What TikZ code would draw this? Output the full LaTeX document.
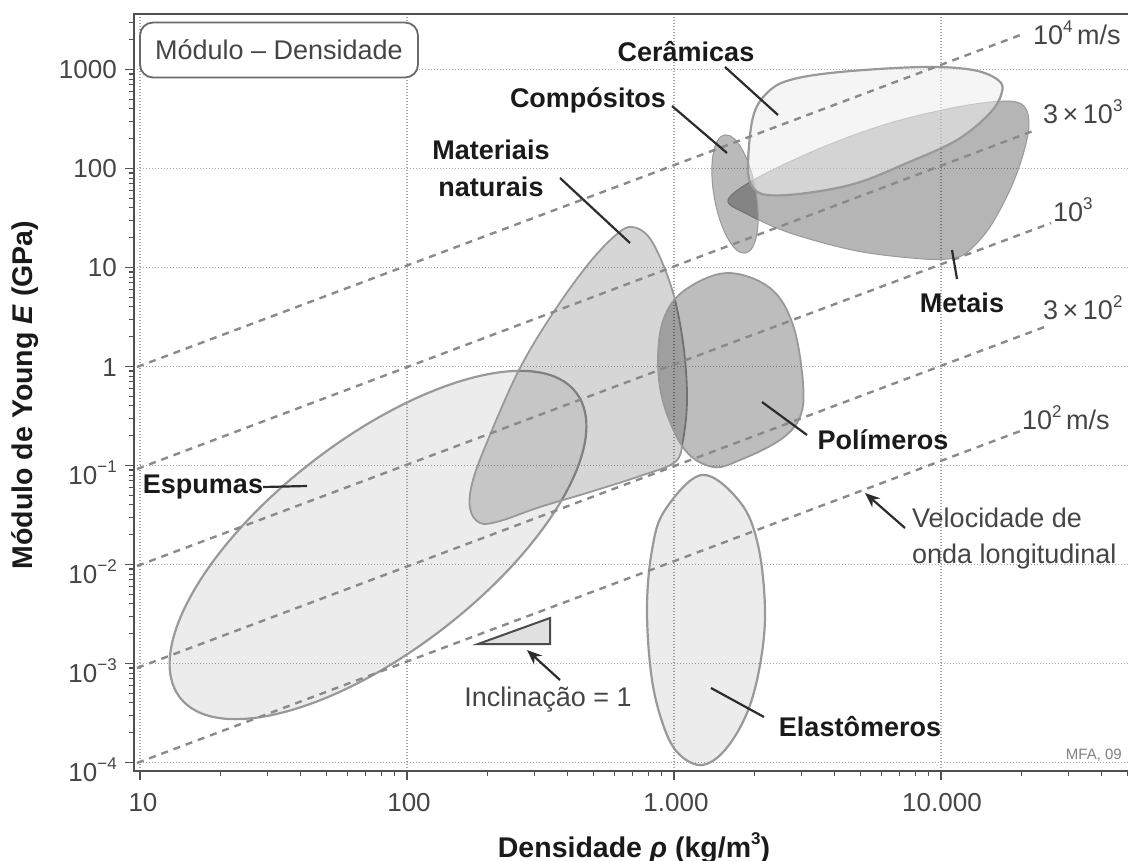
\documentclass[tikz,border=0pt]{standalone}
\usepackage{fontspec}
\setmainfont{Liberation Sans}
\usetikzlibrary{arrows.meta}
\definecolor{frameC}{HTML}{505050}
\definecolor{gridC}{HTML}{A8A8A8}
\definecolor{dashC}{HTML}{8A8A8A}
\definecolor{edgeC}{HTML}{999999}
\definecolor{leadC}{HTML}{2C2C2C}
\definecolor{lightT}{HTML}{454545}
\definecolor{darkT}{HTML}{1A1A1A}
\newcommand{\mysup}[1]{\raisebox{0.45em}{\fontsize{17}{17}\selectfont #1}}
\begin{document}
\begin{tikzpicture}[x=1pt,y=-1pt,
  gridl/.style={gridC, line width=1.2pt, dash pattern=on 1.2pt off 1.8pt},
  vline/.style={dashC, line width=2.4pt, dash pattern=on 7pt off 6pt},
  leader/.style={leadC, line width=2.2pt},
  arr/.style={leadC, line width=2.2pt, -{Stealth[length=15pt,width=12pt]}},
  frm/.style={frameC, line width=2pt},
  tk/.style={frameC, line width=1.4pt},
  cat/.style={font=\fontsize{27}{37}\selectfont\bfseries, text=darkT, inner sep=0pt},
  lt/.style={font=\fontsize{27}{30}\selectfont, text=lightT, inner sep=0pt},
  ticklab/.style={font=\fontsize{26}{28}\selectfont, text=lightT, inner sep=0pt},
  axt/.style={font=\fontsize{28.5}{30}\selectfont\bfseries, text=darkT, inner sep=0pt},
  lightshape/.style={fill=black, fill opacity=0.075, draw=edgeC, line width=2.2pt},
]
\useasboundingbox (0,0) rectangle (1128,861);

% grid
\foreach \d in {-4,...,3} {
  \pgfmathsetmacro{\yy}{366.5-99*(\d)}
  \draw[gridl] (134,\yy) -- (1128,\yy);
}
\foreach \xx in {140,407,674,941} {
  \draw[gridl] (\xx,14) -- (\xx,771);
}

% material bubbles
\draw[lightshape, rotate around={37.6:(378,545)}] (378,545) ellipse [x radius=250, y radius=106];
\draw[fill=black, fill opacity=0.16, draw=edgeC, line width=1.8pt] plot[smooth cycle, tension=0.6] coordinates {(617,234) (632,227) (648,236) (662,262) (675,300) (684,350) (687,400) (683,440) (675,462) (640,476) (590,492) (540,507) (500,521) (480,523) (470,508) (473,480) (490,435) (520,368) (555,310) (590,262)};
\draw[fill=black, fill opacity=0.26, draw=edgeC, line width=1.8pt] plot[smooth cycle, tension=0.6] coordinates {(727,273) (770,288) (793,325) (803,383) (800,417) (780,440) (740,460) (713,467) (685,450) (664,405) (658,360) (664,318) (685,290)};
\draw[lightshape] plot[smooth cycle, tension=0.6] coordinates {(702,475) (740,502) (758,545) (765,610) (760,665) (747,713) (725,750) (702,765) (680,755) (665,730) (652,680) (647,610) (652,550) (665,510)};
\draw[fill=black, fill opacity=0.29, draw=edgeC, line width=1pt] plot[smooth cycle, tension=0.55] coordinates {(728,200) (757,178) (823,147) (890,123) (957,107) (1005,101) (1024,106) (1029,125) (1023,155) (1010,190) (990,227) (970,250) (955,258) (923,259) (857,251) (790,233) (747,214)};
\draw[fill=black, fill opacity=0.27, draw=edgeC, line width=1pt, rotate around={10:(735,194)}] (735,194) ellipse [x radius=21, y radius=60];
\draw[fill=white!93!black, fill opacity=0.55, draw=edgeC, line width=2.2pt] plot[smooth cycle, tension=0.6] coordinates {(748,165) (753,117) (767,93) (790,80) (840,72) (923,67) (973,70) (998,80) (1002,92) (990,113) (957,140) (907,163) (857,183) (807,193) (767,195) (752,186)};

% velocity lines
\coordinate (a1) at (137,367);  \coordinate (b1) at (1023,34);
\coordinate (a2) at (137,469);  \coordinate (b2) at (1033,131);
\coordinate (a3) at (137,566);  \coordinate (b3) at (1051,223);
\coordinate (a4) at (137,668);  \coordinate (b4) at (1047,326);
\coordinate (a5) at (137,763);  \coordinate (b5) at (1023,430);
\foreach \i in {1,...,5} { \draw[vline] (a\i) -- (b\i); }

% frame and ticks
\draw[frm] (1128,14) -- (134,14) -- (134,771) -- (1128,771);
\foreach \d in {-4,...,3} {
  \pgfmathsetmacro{\yy}{366.5-99*(\d)}
  \draw[tk] (125,\yy) -- (134,\yy);
  \foreach \k in {2,...,9} {
    \pgfmathsetmacro{\ym}{366.5-99*(\d+log10(\k))}
    \ifdim \ym pt > 16pt \draw[tk, line width=1.1pt] (128.5,\ym) -- (134,\ym); \fi
  }
}
\foreach \d in {1,...,4} {
  \pgfmathsetmacro{\xx}{140+267*(\d-1)}
  \draw[tk] (\xx,771) -- (\xx,780);
  \foreach \k in {2,...,9} {
    \pgfmathsetmacro{\xm}{140+267*(\d-1+log10(\k))}
    \ifdim \xm pt < 1128pt \draw[tk, line width=1.1pt] (\xm,771) -- (\xm,776); \fi
  }
}

% tick labels
\node[ticklab, anchor=base east] (y3) at (117,79) {1000};
\node[ticklab, anchor=base east] (y2) at (117,178) {100};
\node[ticklab, anchor=base east] (y1) at (117,277) {10};
\node[ticklab, anchor=base east] (y0) at (117,376) {1};
\node[ticklab, anchor=base east] (ym1) at (117,484) {10\mysup{−1}};
\node[ticklab, anchor=base east] (ym2) at (117,583) {10\mysup{−2}};
\node[ticklab, anchor=base east] (ym3) at (117,682) {10\mysup{−3}};
\node[ticklab, anchor=base east] (ym4) at (117,781) {10\mysup{−4}};
\node[ticklab, anchor=base] (x1) at (143,811) {10};
\node[ticklab, anchor=base] (x2) at (409,811) {100};
\node[ticklab, anchor=base] (x3) at (676,811) {1.000};
\node[ticklab, anchor=base] (x4) at (942,811) {10.000};

% axis titles
\node[axt, anchor=base] (xt) at (634,857) {Densidade \textit{ρ} (kg/m\mysup{3})};
\node[axt, rotate=90] (yt) at (25,395) {Módulo de Young \textit{E} (GPa)};

% title box
\node[draw=frameC!85, line width=1.8pt, rounded corners=13pt, fill=white, minimum width=278pt, minimum height=55pt, inner sep=0pt, font=\fontsize{27}{30}\selectfont, text=lightT] (tbox) at (279,50) {Módulo – Densidade};

% velocity labels
\node[lt, anchor=west] (v4) at (1033,33) {10\mysup{4}\,m/s};
\node[lt, anchor=west] (v3k) at (1043,112) {3\,×\,10\mysup{3}};
\node[lt, anchor=west] (v1k) at (1053,210) {10\mysup{3}};
\node[lt, anchor=west] (v300) at (1043,308) {3\,×\,10\mysup{2}};
\node[lt, anchor=west] (v100) at (1022,418) {10\mysup{2}\,m/s};

% category labels
\node[cat] (cer) at (686,52) {Cerâmicas};
\node[cat] (comp) at (588,100) {Compósitos};
\node[cat, align=center] (nat) at (491,168) {Materiais\\naturais};
\node[cat] (met) at (962,303) {Metais};
\node[cat] (pol) at (883,440) {Polímeros};
\node[cat] (esp) at (203,487) {Espumas};
\node[cat] (ela) at (860,727) {Elastômeros};

% leaders
\coordinate (cerA) at (725,67);   \coordinate (cerB) at (778,115);
\coordinate (compA) at (672,106); \coordinate (compB) at (727,153);
\coordinate (natA) at (560,178);  \coordinate (natB) at (630,243);
\coordinate (metA) at (952,250);  \coordinate (metB) at (957,279);
\coordinate (polA) at (762,402);  \coordinate (polB) at (807,435);
\coordinate (espB) at (307,486);
\coordinate (elaA) at (711,688);  \coordinate (elaB) at (764,717);
\draw[leader] (cerA) -- (cerB);
\draw[leader] (compA) -- (compB);
\draw[leader] (natA) -- (natB);
\draw[leader] (metA) -- (metB);
\draw[leader] (polA) -- (polB);
\draw[leader] (esp.east) -- (espB);
\draw[leader] (elaA) -- (elaB);

% velocity note
\node[lt, anchor=base west] (vel1) at (912,527) {Velocidade de};
\node[lt, anchor=base west] (vel2) at (912,563) {onda longitudinal};
\coordinate (velT) at (905,528); \coordinate (velH) at (865,493);
\draw[arr] (velT) -- (velH);

% slope triangle
\draw[fill=black!12, draw=leadC!85, line width=2pt, line join=miter] (478,644) -- (550,644) -- (550,618) -- cycle;
\node[lt] (incl) at (548,700) {Inclinação = 1};
\coordinate (inT) at (560,680); \coordinate (inH) at (527,650);
\draw[arr] (inT) -- (inH);

\node[font=\fontsize{15}{16}\selectfont, text=gray, anchor=east, inner sep=0pt] (mfa) at (1122,755) {MFA, 09};
\end{tikzpicture}
\end{document}
